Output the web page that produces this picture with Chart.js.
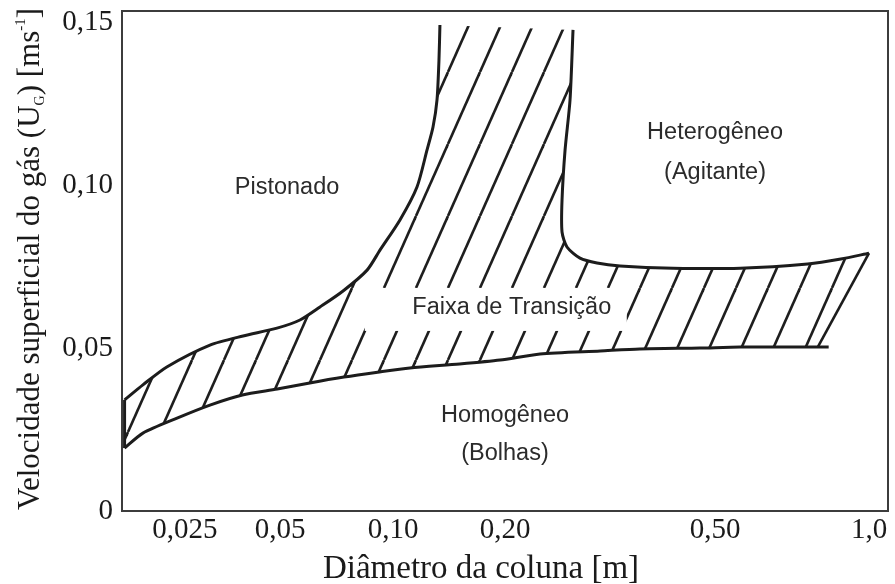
<!DOCTYPE html>
<html>
<head>
<meta charset="utf-8">
<script src="https://cdn.jsdelivr.net/npm/chart.js@4/dist/chart.umd.min.js"></script>
<style>
  body { margin: 0; background: #fff; }
  canvas { display: block; }
</style>
</head>
<body>
<canvas id="regimeChart" width="895" height="584"></canvas>
<script>
// tick marks
const xTicks = [0.025, 0.05, 0.10, 0.20, 0.50, 1.0];
const xTickLabels = ["0,025", "0,05", "0,10", "0,20", "0,50", "1,0"];
const yTicks = [0, 0.05, 0.10, 0.15];
const yTickLabels = ["0", "0,05", "0,10", "0,15"];

// lower limit of the transition band (homogeneous regime below)
const lowerD = [0.0161, 0.0184, 0.0236, 0.030, 0.038, 0.049, 0.060, 0.074, 0.091, 0.111, 0.151, 0.194, 0.233, 0.303, 0.360, 0.468, 0.560, 0.834];
const lowerU = [0.0193, 0.0239, 0.0285, 0.0325, 0.0356, 0.0374, 0.0393, 0.0411, 0.0426, 0.0439, 0.0451, 0.0463, 0.0482, 0.0491, 0.0497, 0.0500, 0.0503, 0.0503];

// short left edge of the band
const leftEdgeD = [0.0161, 0.0161];
const leftEdgeU = [0.0193, 0.0341];

// slug flow limit
const slugD = [0.0161, 0.0184, 0.0219, 0.030, 0.0382, 0.0489, 0.0565, 0.0639, 0.0736, 0.0853, 0.0924, 0.1044, 0.1160, 0.1234, 0.1281, 0.1313, 0.1329, 0.1337];
const slugU = [0.0341, 0.0387, 0.0442, 0.0509, 0.0537, 0.0561, 0.0586, 0.0626, 0.0675, 0.0739, 0.0801, 0.0893, 0.0994, 0.1107, 0.1178, 0.1261, 0.1383, 0.1491];

// heterogeneous (churn-turbulent) limit
const churnD = [0.2691, 0.2656, 0.2599, 0.2565, 0.2565, 0.2621, 0.2774, 0.2988, 0.3303, 0.4164, 0.5601, 0.7586, 0.8809, 1.000];
const churnU = [0.1476, 0.1261, 0.1107, 0.0954, 0.0856, 0.0810, 0.0776, 0.0761, 0.0752, 0.0745, 0.0745, 0.0758, 0.0773, 0.0791];

// right closing stroke of the band
const closeD = [1.000, 0.794];
const closeU = [0.0791, 0.0503];

// regime names
const regionLabels = ["Pistonado", "Heterogêneo", "(Agitante)", "Faixa de Transição", "Homogêneo", "(Bolhas)"];
const regionD = [0.0522, 0.50, 0.50, 0.206, 0.20, 0.20];
const regionU = [0.0991, 0.1160, 0.1037, 0.0623, 0.0294, 0.0175];

const pts = (xs, ys) => xs.map((x, i) => ({ x: x, y: ys[i] }));

// hatched band: slug limit, open top, churn limit, closing stroke, lower limit back
const bandPoints = pts(slugD, slugU)
  .concat(pts(churnD, churnU))
  .concat(pts(closeD, closeU).slice(1))
  .concat(pts(lowerD, lowerU).reverse());

// column diameter axis: log-like, piecewise between the printed ticks
const axisStops = [0.0158, 0.025, 0.05, 0.10, 0.20, 0.50, 1.0, 1.095];
const axisFrac = [0, 0.0822, 0.2063, 0.3538, 0.5, 0.7742, 0.9752, 1];

function stopFraction(v) {
  const lv = Math.log10(v);
  const ls = axisStops.map(Math.log10);
  let i = 0;
  while (i < ls.length - 2 && lv > ls[i + 1]) i++;
  return axisFrac[i] + (lv - ls[i]) / (ls[i + 1] - ls[i]) * (axisFrac[i + 1] - axisFrac[i]);
}

function stopValue(f) {
  const ls = axisStops.map(Math.log10);
  let i = 0;
  while (i < axisFrac.length - 2 && f > axisFrac[i + 1]) i++;
  const lv = ls[i] + (f - axisFrac[i]) / (axisFrac[i + 1] - axisFrac[i]) * (ls[i + 1] - ls[i]);
  return Math.pow(10, lv);
}

class PiecewiseLogScale extends Chart.LinearScale {
  buildTicks() {
    return xTicks.map((v) => ({ value: v }));
  }
  getPixelForValue(value) {
    if (value === null || value === undefined || isNaN(value)) return NaN;
    return this.getPixelForDecimal(stopFraction(value));
  }
  getValueForPixel(pixel) {
    return stopValue(this.getDecimalForPixel(pixel));
  }
}
PiecewiseLogScale.id = "piecewiseLog";
Chart.register(PiecewiseLogScale);

function hatchPattern() {
  const w = 32, h = 72;
  const tile = document.createElement("canvas");
  tile.width = w;
  tile.height = h;
  const c = tile.getContext("2d");
  c.strokeStyle = "#1e1e1e";
  c.lineWidth = 2.6;
  for (let k = -1; k <= 1; k++) {
    c.beginPath();
    c.moveTo(k * w, h);
    c.lineTo(k * w + w, 0);
    c.stroke();
  }
  return c.createPattern(tile, "repeat");
}

const lineColor = "#1c1c1c";
const serif = "'Liberation Serif', 'Times New Roman', serif";

const decorations = {
  id: "decorations",
  beforeDraw(chart) {
    const ctx = chart.ctx;
    ctx.save();
    ctx.fillStyle = "#fff";
    ctx.fillRect(0, 0, chart.width, chart.height);
    ctx.restore();
  },
  afterDatasetsDraw(chart) {
    const { ctx, chartArea: a, scales: { x, y } } = chart;
    ctx.save();

    // clear the hatching behind the band label
    const bx = x.getPixelForValue(regionD[3]);
    const by = y.getPixelForValue(regionU[3]);
    ctx.fillStyle = "#fff";
    ctx.fillRect(bx - 147, by - 20, 262, 43);

    ctx.fillStyle = "#2b2b2b";
    ctx.font = "23.5px 'Liberation Sans', Arial, sans-serif";
    ctx.textAlign = "center";
    ctx.textBaseline = "middle";
    regionLabels.forEach((t, i) => {
      ctx.fillText(t, x.getPixelForValue(regionD[i]), y.getPixelForValue(regionU[i]));
    });

    // frame
    ctx.strokeStyle = "#3c3c3c";
    ctx.lineWidth = 2;
    ctx.strokeRect(a.left, a.top, a.right - a.left, a.bottom - a.top);

    // axis titles
    ctx.fillStyle = "#1a1a1a";
    ctx.textAlign = "center";
    ctx.textBaseline = "alphabetic";
    ctx.font = "33px " + serif;
    ctx.fillText("Diâmetro da coluna [m]", 481, 578);

    const parts = [
      { t: "Velocidade superficial do gás (U", s: 31, d: 0 },
      { t: "G", s: 14, d: 5 },
      { t: ") [ms", s: 31, d: 0 },
      { t: "-1", s: 15, d: -14 },
      { t: "]", s: 31, d: 0 },
    ];
    let total = 0;
    parts.forEach((p) => {
      ctx.font = p.s + "px " + serif;
      p.w = ctx.measureText(p.t).width;
      total += p.w;
    });
    ctx.translate(39, 259);
    ctx.rotate(-Math.PI / 2);
    ctx.textAlign = "left";
    let cx = -total / 2;
    parts.forEach((p) => {
      ctx.font = p.s + "px " + serif;
      ctx.fillText(p.t, cx, p.d);
      cx += p.w;
    });
    ctx.restore();
  },
};

const boundary = (data) => ({
  data: data,
  borderColor: lineColor,
  borderWidth: 3,
  pointRadius: 0,
  tension: 0.25,
  fill: false,
});

new Chart(document.getElementById("regimeChart"), {
  type: "line",
  data: {
    datasets: [
      boundary(pts(lowerD, lowerU)),
      Object.assign(boundary(pts(leftEdgeD, leftEdgeU)), { tension: 0 }),
      boundary(pts(slugD, slugU)),
      boundary(pts(churnD, churnU)),
      Object.assign(boundary(pts(closeD, closeU)), { tension: 0, borderWidth: 2.6 }),
      {
        data: bandPoints,
        borderWidth: 0,
        pointRadius: 0,
        tension: 0,
        backgroundColor: hatchPattern(),
        fill: "shape",
      },
    ],
  },
  options: {
    responsive: false,
    animation: false,
    layout: { padding: { top: 11, right: 7, left: 0, bottom: 0 } },
    plugins: { legend: { display: false }, tooltip: { enabled: false } },
    scales: {
      x: {
        type: "piecewiseLog",
        min: 0.0158,
        max: 1.095,
        grid: { display: false, drawTicks: false, tickLength: 0 },
        border: { display: false },
        ticks: {
          autoSkip: false,
          maxRotation: 0,
          padding: 2,
          color: "#1a1a1a",
          font: { family: serif, size: 29 },
          callback: (v, i) => xTickLabels[i],
        },
        afterFit: (s) => {
          s.height = 73;
          s.paddingLeft = 0;
          s.paddingRight = 0;
        },
      },
      y: {
        type: "linear",
        min: 0,
        max: 0.1534,
        grid: { display: false, drawTicks: false, tickLength: 0 },
        border: { display: false },
        afterBuildTicks: (s) => {
          s.ticks = yTicks.map((v) => ({ value: v }));
        },
        ticks: {
          padding: 9,
          color: "#1a1a1a",
          font: { family: serif, size: 29 },
          callback: (v, i) => yTickLabels[i],
        },
        afterFit: (s) => {
          s.width = 122;
          s.paddingTop = 0;
          s.paddingBottom = 0;
        },
      },
    },
  },
  plugins: [decorations],
});
</script>
</body>
</html>
